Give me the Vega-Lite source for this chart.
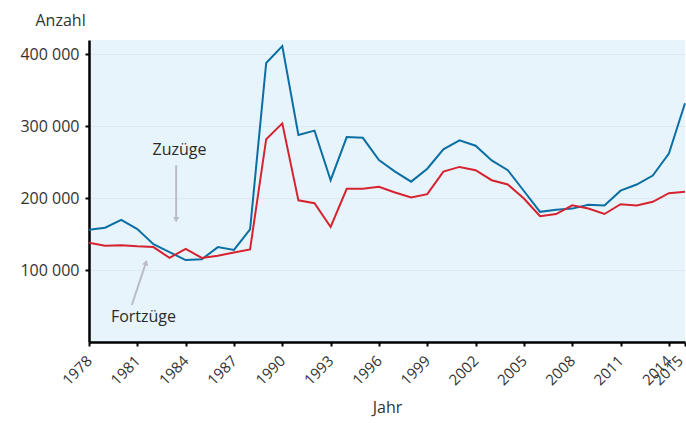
{
  "$schema": "https://vega.github.io/schema/vega-lite/v6.json",
  "width": 596,
  "height": 302,
  "autosize": {"type": "none"},
  "padding": {"left": 89, "top": 40, "right": 1, "bottom": 81},
  "config": {
    "font": "Open Sans",
    "view": {"fill": "#e8f4fb", "stroke": null},
    "axis": {
      "labelFont": "Open Sans",
      "titleFont": "Open Sans",
      "labelColor": "#333333",
      "titleColor": "#333333",
      "labelFontSize": 15,
      "titleFontSize": 16,
      "titleFontWeight": "normal",
      "domainColor": "#000000",
      "domainWidth": 2.5,
      "tickColor": "#000000",
      "tickWidth": 2,
      "tickSize": 4,
      "gridColor": "#dbeaf2",
      "gridWidth": 1
    }
  },
  "datasets": {
    "series": [
      {"Jahr": 1978, "Art": "Zuzüge", "Anzahl": 156000},
      {"Jahr": 1979, "Art": "Zuzüge", "Anzahl": 159000},
      {"Jahr": 1980, "Art": "Zuzüge", "Anzahl": 170000},
      {"Jahr": 1981, "Art": "Zuzüge", "Anzahl": 157000},
      {"Jahr": 1982, "Art": "Zuzüge", "Anzahl": 136000},
      {"Jahr": 1983, "Art": "Zuzüge", "Anzahl": 125000},
      {"Jahr": 1984, "Art": "Zuzüge", "Anzahl": 114000},
      {"Jahr": 1985, "Art": "Zuzüge", "Anzahl": 115000},
      {"Jahr": 1986, "Art": "Zuzüge", "Anzahl": 132000},
      {"Jahr": 1987, "Art": "Zuzüge", "Anzahl": 128000},
      {"Jahr": 1988, "Art": "Zuzüge", "Anzahl": 156500},
      {"Jahr": 1989, "Art": "Zuzüge", "Anzahl": 388000},
      {"Jahr": 1990, "Art": "Zuzüge", "Anzahl": 411500},
      {"Jahr": 1991, "Art": "Zuzüge", "Anzahl": 288000},
      {"Jahr": 1992, "Art": "Zuzüge", "Anzahl": 294000},
      {"Jahr": 1993, "Art": "Zuzüge", "Anzahl": 225000},
      {"Jahr": 1994, "Art": "Zuzüge", "Anzahl": 285000},
      {"Jahr": 1995, "Art": "Zuzüge", "Anzahl": 284000},
      {"Jahr": 1996, "Art": "Zuzüge", "Anzahl": 253000},
      {"Jahr": 1997, "Art": "Zuzüge", "Anzahl": 237000},
      {"Jahr": 1998, "Art": "Zuzüge", "Anzahl": 223000},
      {"Jahr": 1999, "Art": "Zuzüge", "Anzahl": 241000},
      {"Jahr": 2000, "Art": "Zuzüge", "Anzahl": 268000},
      {"Jahr": 2001, "Art": "Zuzüge", "Anzahl": 280500},
      {"Jahr": 2002, "Art": "Zuzüge", "Anzahl": 273000},
      {"Jahr": 2003, "Art": "Zuzüge", "Anzahl": 252500},
      {"Jahr": 2004, "Art": "Zuzüge", "Anzahl": 239000},
      {"Jahr": 2005, "Art": "Zuzüge", "Anzahl": 210000},
      {"Jahr": 2006, "Art": "Zuzüge", "Anzahl": 181000},
      {"Jahr": 2007, "Art": "Zuzüge", "Anzahl": 184000},
      {"Jahr": 2008, "Art": "Zuzüge", "Anzahl": 185500},
      {"Jahr": 2009, "Art": "Zuzüge", "Anzahl": 191000},
      {"Jahr": 2010, "Art": "Zuzüge", "Anzahl": 190000},
      {"Jahr": 2011, "Art": "Zuzüge", "Anzahl": 210500},
      {"Jahr": 2012, "Art": "Zuzüge", "Anzahl": 219000},
      {"Jahr": 2013, "Art": "Zuzüge", "Anzahl": 231500},
      {"Jahr": 2014, "Art": "Zuzüge", "Anzahl": 262000},
      {"Jahr": 2015, "Art": "Zuzüge", "Anzahl": 332000},
      {"Jahr": 1978, "Art": "Fortzüge", "Anzahl": 138000},
      {"Jahr": 1979, "Art": "Fortzüge", "Anzahl": 134000},
      {"Jahr": 1980, "Art": "Fortzüge", "Anzahl": 134700},
      {"Jahr": 1981, "Art": "Fortzüge", "Anzahl": 133000},
      {"Jahr": 1982, "Art": "Fortzüge", "Anzahl": 132000},
      {"Jahr": 1983, "Art": "Fortzüge", "Anzahl": 117000},
      {"Jahr": 1984, "Art": "Fortzüge", "Anzahl": 129600},
      {"Jahr": 1985, "Art": "Fortzüge", "Anzahl": 117000},
      {"Jahr": 1986, "Art": "Fortzüge", "Anzahl": 120000},
      {"Jahr": 1987, "Art": "Fortzüge", "Anzahl": 124500},
      {"Jahr": 1988, "Art": "Fortzüge", "Anzahl": 128700},
      {"Jahr": 1989, "Art": "Fortzüge", "Anzahl": 282000},
      {"Jahr": 1990, "Art": "Fortzüge", "Anzahl": 304000},
      {"Jahr": 1991, "Art": "Fortzüge", "Anzahl": 197000},
      {"Jahr": 1992, "Art": "Fortzüge", "Anzahl": 193000},
      {"Jahr": 1993, "Art": "Fortzüge", "Anzahl": 160000},
      {"Jahr": 1994, "Art": "Fortzüge", "Anzahl": 213000},
      {"Jahr": 1995, "Art": "Fortzüge", "Anzahl": 213000},
      {"Jahr": 1996, "Art": "Fortzüge", "Anzahl": 216000},
      {"Jahr": 1997, "Art": "Fortzüge", "Anzahl": 208000},
      {"Jahr": 1998, "Art": "Fortzüge", "Anzahl": 201000},
      {"Jahr": 1999, "Art": "Fortzüge", "Anzahl": 205600},
      {"Jahr": 2000, "Art": "Fortzüge", "Anzahl": 237000},
      {"Jahr": 2001, "Art": "Fortzüge", "Anzahl": 243500},
      {"Jahr": 2002, "Art": "Fortzüge", "Anzahl": 239000},
      {"Jahr": 2003, "Art": "Fortzüge", "Anzahl": 225000},
      {"Jahr": 2004, "Art": "Fortzüge", "Anzahl": 219000},
      {"Jahr": 2005, "Art": "Fortzüge", "Anzahl": 199500},
      {"Jahr": 2006, "Art": "Fortzüge", "Anzahl": 175000},
      {"Jahr": 2007, "Art": "Fortzüge", "Anzahl": 178000},
      {"Jahr": 2008, "Art": "Fortzüge", "Anzahl": 190000},
      {"Jahr": 2009, "Art": "Fortzüge", "Anzahl": 185600},
      {"Jahr": 2010, "Art": "Fortzüge", "Anzahl": 178000},
      {"Jahr": 2011, "Art": "Fortzüge", "Anzahl": 191700},
      {"Jahr": 2012, "Art": "Fortzüge", "Anzahl": 190000},
      {"Jahr": 2013, "Art": "Fortzüge", "Anzahl": 195000},
      {"Jahr": 2014, "Art": "Fortzüge", "Anzahl": 207000},
      {"Jahr": 2015, "Art": "Fortzüge", "Anzahl": 209000}
    ],
    "arrows": [
      {"x": 1983.41, "y": 245800, "x2": 1983.41, "y2": 172000},
      {"x": 1980.66, "y": 51400, "x2": 1981.52, "y2": 109300}
    ],
    "heads": [
      {"x": 1983.41, "y": 170000, "shape": "triangle-down", "angle": 0},
      {"x": 1981.54, "y": 110300, "shape": "triangle-up", "angle": 18}
    ],
    "labels": [
      {"x": 1983.62, "y": 259700, "text": "Zuzüge"},
      {"x": 1981.38, "y": 28200, "text": "Fortzüge"}
    ]
  },
  "layer": [
    {
      "data": {"name": "series"},
      "mark": {"type": "line", "strokeWidth": 2},
      "encoding": {
        "x": {
          "field": "Jahr",
          "type": "quantitative",
          "scale": {"domain": [1978, 2015], "nice": false, "zero": false},
          "axis": {
            "title": "Jahr",
            "values": [1978, 1981, 1984, 1987, 1990, 1993, 1996, 1999, 2002, 2005, 2008, 2011, 2014, 2015],
            "format": "d",
            "labelAngle": -45,
            "labelAlign": "right",
            "labelBaseline": "middle",
            "labelPadding": 12,
            "labelOffset": {"condition": {"test": "datum.value == 2015", "value": -5}, "value": 0},
            "grid": false,
            "titlePadding": 12,
            "labelOverlap": false,
            "labelFlush": false
          }
        },
        "y": {
          "field": "Anzahl",
          "type": "quantitative",
          "scale": {"domain": [0, 420000], "nice": false},
          "axis": {
            "title": "Anzahl",
            "values": [100000, 200000, 300000, 400000],
            "labelExpr": "format(datum.value / 1000, 'd') + ' 000'",
            "labelFontSize": 16,
            "labelPadding": 6,
            "titleAngle": 0,
            "titleAlign": "left",
            "titleBaseline": "alphabetic",
            "titleX": -54,
            "titleY": -15
          }
        },
        "color": {
          "field": "Art",
          "type": "nominal",
          "scale": {"domain": ["Zuzüge", "Fortzüge"], "range": ["#0b6fa4", "#d6232f"]},
          "legend": null
        }
      }
    },
    {
      "data": {"name": "arrows"},
      "mark": {"type": "rule", "color": "#b9bcc7", "strokeWidth": 2},
      "encoding": {
        "x": {"field": "x", "type": "quantitative"},
        "y": {"field": "y", "type": "quantitative"},
        "x2": {"field": "x2"},
        "y2": {"field": "y2"}
      }
    },
    {
      "data": {"name": "heads"},
      "mark": {"type": "point", "filled": true, "color": "#b9bcc7", "size": 40, "opacity": 1},
      "encoding": {
        "x": {"field": "x", "type": "quantitative"},
        "y": {"field": "y", "type": "quantitative"},
        "shape": {"field": "shape", "type": "nominal", "scale": null},
        "angle": {"field": "angle", "type": "quantitative", "scale": null}
      }
    },
    {
      "data": {"name": "labels"},
      "mark": {"type": "text", "font": "Open Sans", "fontSize": 16, "fontWeight": 500, "color": "#2b2b2b", "baseline": "alphabetic", "align": "center"},
      "encoding": {
        "x": {"field": "x", "type": "quantitative"},
        "y": {"field": "y", "type": "quantitative"},
        "text": {"field": "text"}
      }
    }
  ]
}
